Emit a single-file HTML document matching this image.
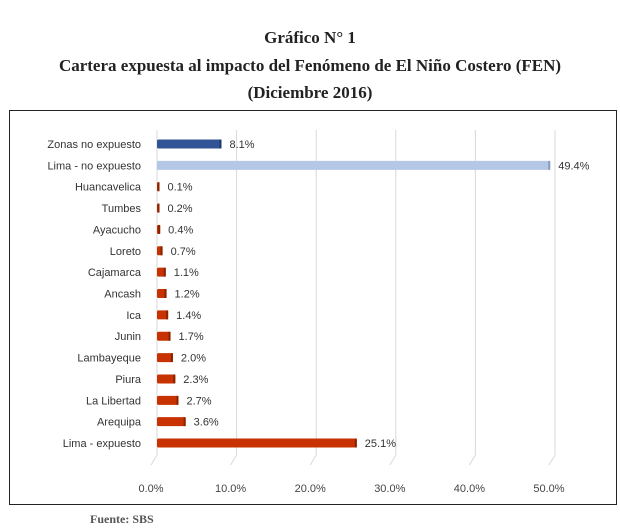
<!DOCTYPE html>
<html><head><meta charset="utf-8"><style>
body{margin:0;background:#fff;width:620px;height:530px;overflow:hidden;font-family:"Liberation Sans",sans-serif}
.t{position:absolute;left:0;width:620px;text-align:center;font-family:"Liberation Serif",serif;font-weight:bold;font-size:17px;color:#222}
</style></head><body>
<div class="t" style="top:28px">Gráfico N° 1</div>
<div class="t" style="top:56px">Cartera expuesta al impacto del Fenómeno de El Niño Costero (FEN)</div>
<div class="t" style="top:83px">(Diciembre 2016)</div>
<svg id="c" width="620" height="530" style="position:absolute;left:0;top:0">
<rect x="9.5" y="110.5" width="607" height="394" fill="none" stroke="#222" stroke-width="1"/>
</svg>
<div style="position:absolute;left:90px;top:512px;font-family:'Liberation Serif',serif;font-weight:bold;font-size:12px;color:#555">Fuente: SBS</div>
<script>
const categories=["Zonas no expuesto","Lima - no expuesto","Huancavelica","Tumbes","Ayacucho","Loreto","Cajamarca","Ancash","Ica","Junin","Lambayeque","Piura","La Libertad","Arequipa","Lima - expuesto"];
const values=[8.1,49.4,0.1,0.2,0.4,0.7,1.1,1.2,1.4,1.7,2.0,2.3,2.7,3.6,25.1];
const ticks=[0,10,20,30,40,50];
const svg=document.getElementById('c');const NS='http://www.w3.org/2000/svg';
const x=v=>157+v*7.96;const y=i=>144+i*21.36;
function el(t,a){const e=document.createElementNS(NS,t);for(const k in a)e.setAttribute(k,a[k]);svg.appendChild(e);return e;}
ticks.forEach(t=>{
const g=el('path',{d:`M${x(t)} 130 L${x(t)} 455 L${x(t)-6} 465`,stroke:'#d9d9d9','stroke-width':1,fill:'none'});


const l=el('text',{x:x(t)-6,y:492,'text-anchor':'middle','font-size':11,fill:'#444'});l.textContent=t.toFixed(1)+'%';


});
categories.forEach((c,i)=>{
const col=i==0?'#2f5597':i==1?'#b4c7e7':'#c83200';
const w=Math.max(values[i]*7.96,2.5);
const b=el('rect',{x:x(0),y:y(i)-4.5,width:w,height:9,fill:col,rx:1.5});


const s=el('rect',{x:x(0)+w-2,y:y(i)-4.5,width:2,height:9,fill:i==1?'#8a9cbc':(i==0?'#1f3a6a':'#8a2200')});


const l=el('text',{x:141,y:y(i)+4,'text-anchor':'end','font-size':11,fill:'#333'});l.textContent=c;


const v=el('text',{x:x(0)+w+8,y:y(i)+4,'font-size':11,fill:'#333'});v.textContent=values[i].toFixed(1)+'%';


});
</script>
</body></html>
